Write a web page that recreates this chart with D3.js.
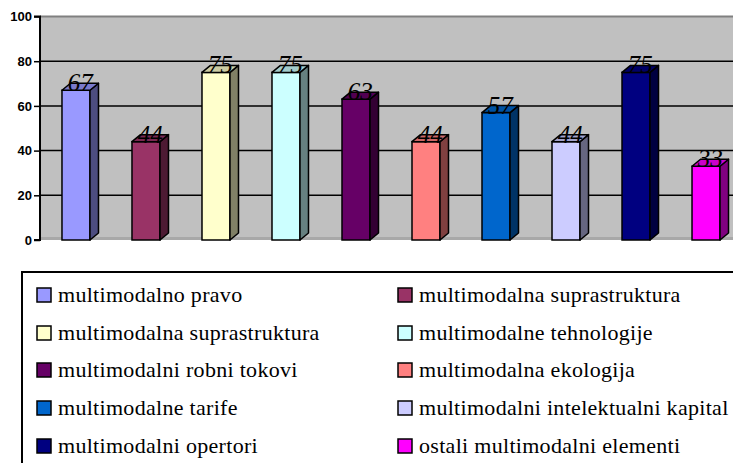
<!DOCTYPE html>
<html><head><meta charset="utf-8">
<script src="https://cdn.jsdelivr.net/npm/d3@7"></script>
</head><body style="margin:0;background:#fff">
<div id="wrap" style="position:relative;width:733px;height:463px;overflow:hidden">
<svg id="c" width="733" height="463" style="display:block;position:absolute;left:0;top:0"></svg>
</div>
<script>
const categories = ["multimodalno pravo","multimodalna suprastruktura","multimodalna suprastruktura","multimodalne tehnologije","multimodalni robni tokovi","multimodalna ekologija","multimodalne tarife","multimodalni intelektualni kapital","multimodalni opertori","ostali multimodalni elementi"];
const values = [67,44,75,75,63,44,57,44,75,33];
const colors = ["#9999ff","#993366","#ffffcc","#ccffff","#660066","#ff8080","#0066cc","#ccccff","#000080","#ff00ff"];
const yTicks = [0,20,40,60,80,100];

const SERIF = "'Liberation Serif', 'Times New Roman', serif";
const wrap = d3.select("#wrap");
const svg = d3.select("#c");
const x = d3.scaleBand().domain(d3.range(categories.length)).range([40,742]).paddingInner(0.6).paddingOuter(0.314);
const y = d3.scaleLinear().domain([0,100]).range([240,16.5]);
const dx = 8.5, dy = 7;

// back wall
svg.append("rect").attr("x",40).attr("y",y(100)).attr("width",733-40).attr("height",y(0)-y(100)).attr("fill","#c0c0c0");
svg.append("line").attr("x1",40).attr("x2",733).attr("y1",y(100)).attr("y2",y(100)).attr("stroke","#808080").attr("stroke-width",2);
svg.append("rect").attr("x",40).attr("y",y(0)-3).attr("width",693).attr("height",3).attr("fill","#a8a8a8");

// gridlines
svg.selectAll(".grid").data(yTicks.filter(d=>d>0&&d<100)).join("line")
  .attr("x1",40).attr("x2",733).attr("y1",d=>y(d)).attr("y2",d=>y(d))
  .attr("stroke","#000").attr("stroke-width",1.5);

// axis
const ax = svg.append("g").attr("transform","translate(40,0)")
  .call(d3.axisLeft(y).tickValues(yTicks).tickSize(6).tickPadding(2).tickFormat(d3.format("d")));
ax.attr("font-family","Arial").attr("font-size",13).attr("font-weight","bold");
ax.select(".domain").attr("stroke","#000").attr("stroke-width",2).attr("d",`M-6,${y(100)}H0V${y(0)}H-6`);
ax.selectAll(".tick line").attr("stroke","#000").attr("stroke-width",1.5);
ax.selectAll(".tick text").attr("fill","#000");

function shade(c,k){const r=d3.rgb(c);return d3.rgb(r.r*k,r.g*k,r.b*k).toString();}

const bars = svg.selectAll(".bar").data(values).join("g").attr("class","bar");
bars.each(function(v,i){
  const g = d3.select(this);
  const x0 = x(i), w = x.bandwidth(), yt = y(v), yb = y(0);
  g.append("rect").attr("x",x0).attr("y",yt).attr("width",w).attr("height",yb-yt)
    .attr("fill",colors[i]).attr("stroke","#000").attr("stroke-width",1.5);
  g.append("path").attr("d",`M${x0+w},${yt}L${x0+w+dx},${yt-dy}L${x0+w+dx},${yb-dy}L${x0+w},${yb}Z`)
    .attr("fill",shade(colors[i],0.5)).attr("stroke","#000").attr("stroke-width",1.5).attr("stroke-linejoin","round");
  g.append("path").attr("d",`M${x0},${yt}L${x0+dx},${yt-dy}L${x0+w+dx},${yt-dy}L${x0+w},${yt}Z`)
    .attr("fill",shade(colors[i],0.8)).attr("stroke","#000").attr("stroke-width",1.5).attr("stroke-linejoin","round");
});

// value labels (HTML text)
wrap.selectAll(".vl").data(values).join("div").attr("class","vl")
  .style("position","absolute")
  .style("left",(v,i)=>(x(i)+x.bandwidth()/2+dx/2)+"px")
  .style("top",v=>(y(v)+1-0.8375*25)+"px")
  .style("transform","translateX(-50%)")
  .style("font-family",SERIF).style("font-style","italic").style("font-size","25px")
  .style("line-height","1").style("white-space","nowrap").style("color","#000")
  .text(v=>v);

// legend
svg.append("rect").attr("x",22).attr("y",272).attr("width",730).attr("height",220)
  .attr("fill","#fff").attr("stroke","#000").attr("stroke-width",2);
const rowY = [295,333,370,408,446];
const lg = svg.selectAll(".lg").data(categories).join("g").attr("class","lg")
  .attr("transform",(d,i)=>`translate(${i%2===0?37:398},${rowY[Math.floor(i/2)]})`);
lg.append("rect").attr("x",0).attr("y",-7).attr("width",14).attr("height",14)
  .attr("fill",(d,i)=>colors[i]).attr("stroke","#000").attr("stroke-width",1.5);
wrap.selectAll(".lt").data(categories).join("div").attr("class","lt")
  .style("position","absolute")
  .style("left",(d,i)=>((i%2===0?37:398)+21)+"px")
  .style("top",(d,i)=>(rowY[Math.floor(i/2)]+7-0.8375*22)+"px")
  .style("font-family",SERIF).style("font-size","22px").style("letter-spacing","0.3px")
  .style("line-height","1").style("white-space","nowrap").style("color","#000")
  .text(d=>d);
</script>
</body></html>
